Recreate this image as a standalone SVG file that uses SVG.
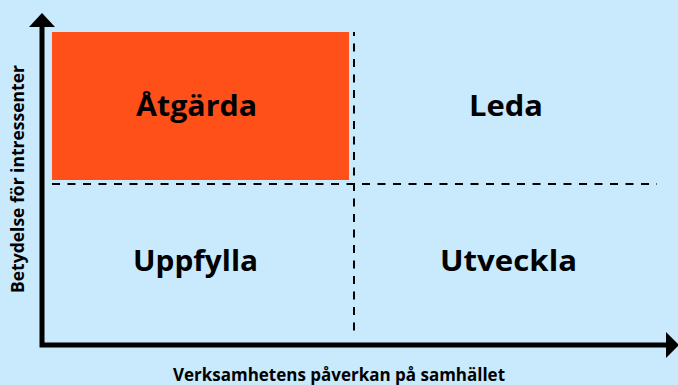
<svg xmlns="http://www.w3.org/2000/svg" width="678" height="385" viewBox="0 0 678 385">
<style>
.lbl{font-family:"Open Sans","Liberation Sans",sans-serif;font-weight:700;fill:#000;}
.q{font-size:29px;text-anchor:middle;}
.ax{font-size:18px;text-anchor:middle;}
.dash{stroke:#000;stroke-width:2;stroke-dasharray:8 7.5;fill:none;}
.axis{stroke:#000;stroke-width:5;fill:none;}
</style>
<rect width="678" height="385" fill="#C9E9FD"/>
<g id="atgarda">
<rect x="52" y="32" width="297" height="148" fill="#FF5019"/>
<text class="lbl q" x="196.5" y="116" textLength="121" lengthAdjust="spacingAndGlyphs">Åtgärda</text>
</g>
<g id="leda">
<text class="lbl q" x="506" y="116" textLength="74" lengthAdjust="spacingAndGlyphs">Leda</text>
</g>
<g id="uppfylla">
<text class="lbl q" x="195.5" y="271" textLength="125" lengthAdjust="spacingAndGlyphs">Uppfylla</text>
</g>
<g id="utveckla">
<text class="lbl q" x="508.5" y="271" textLength="137" lengthAdjust="spacingAndGlyphs">Utveckla</text>
</g>
<g id="connectors">
<line class="dash" x1="354" y1="32" x2="354" y2="335" stroke-dashoffset="4"/>
<line class="dash" x1="52" y1="184" x2="657" y2="184"/>
<polyline class="axis" points="42,26 42,345 667,345"/>
<polygon points="29,27 55,27 42,13" fill="#000"/>
<polygon points="666,332 666,358 679,345" fill="#000"/>
</g>
<g id="axis-labels">
<text class="lbl ax" x="339" y="381" textLength="332" lengthAdjust="spacingAndGlyphs">Verksamhetens påverkan på samhället</text>
<text class="lbl ax" transform="translate(24,179) rotate(-90)" x="0" y="0" textLength="228" lengthAdjust="spacingAndGlyphs">Betydelse för intressenter</text>
</g>
</svg>
